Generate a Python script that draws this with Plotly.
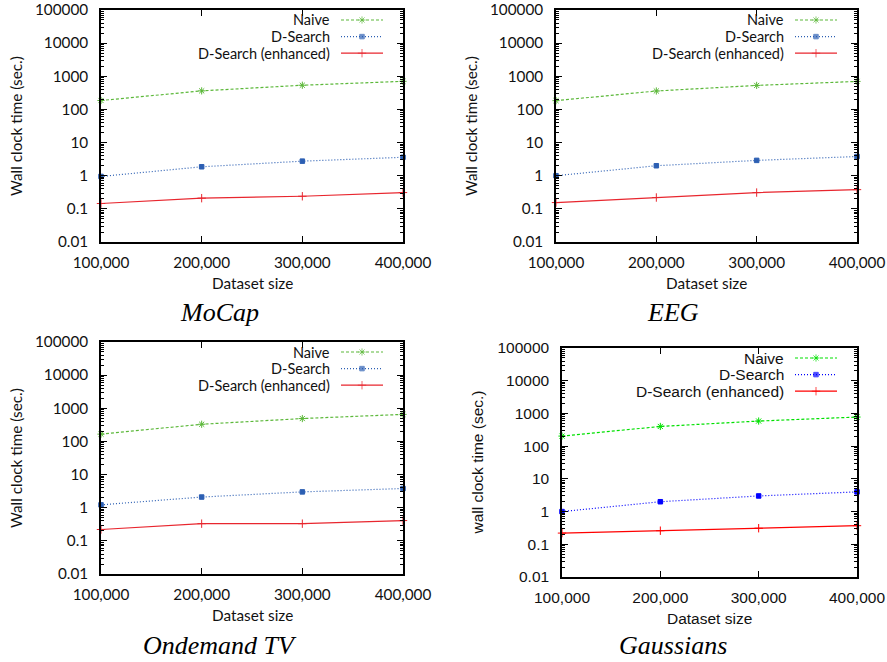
import plotly.graph_objects as go

W, H = 887, 662

# x: dataset size, y: wall clock time in seconds (log scale)
sizes = [100000, 200000, 300000, 400000]
size_labels = ["100,000", "200,000", "300,000", "400,000"]
time_ticks = [0.01, 0.1, 1, 10, 100, 1000, 10000, 100000]
time_labels = ["0.01", "0.1", "1", "10", "100", "1000", "10000", "100000"]

series_names = ["Naive", "D-Search", "D-Search (enhanced)"]

mocap_naive = [186, 363, 537, 705]
mocap_dsearch = [0.95, 1.86, 2.75, 3.6]
mocap_enhanced = [0.145, 0.21, 0.24, 0.31]

eeg_naive = [184, 360, 530, 700]
eeg_dsearch = [1.0, 2.0, 2.9, 3.8]
eeg_enhanced = [0.155, 0.22, 0.31, 0.38]

tv_naive = [166, 330, 490, 655]
tv_dsearch = [1.22, 2.1, 3.0, 3.8]
tv_enhanced = [0.22, 0.33, 0.33, 0.41]

gauss_naive = [203, 400, 585, 775]
gauss_dsearch = [1.0, 2.0, 3.0, 4.0]
gauss_enhanced = [0.22, 0.26, 0.31, 0.37]

captions = ["MoCap", "EEG", "Ondemand TV", "Gaussians"]
y_titles = ["Wall clock time (sec.)", "Wall clock time (sec.)",
            "Wall clock time (sec.)", "wall clock time (sec.)"]
panel_data = [
    (mocap_naive, mocap_dsearch, mocap_enhanced),
    (eeg_naive, eeg_dsearch, eeg_enhanced),
    (tv_naive, tv_dsearch, tv_enhanced),
    (gauss_naive, gauss_dsearch, gauss_enhanced),
]

# plot boxes in pixels: left, right, top, bottom
boxes = [
    (101, 403, 10, 242),
    (556, 857, 10, 242),
    (101, 403, 342, 574),
    (562, 857, 348, 577),
]
caption_pos = [(219, 312), (673, 312), (220, 645), (673, 645)]

muted = ["#5cb83a", "#2c5fb3", "#e8262e"]
vivid = ["#00e000", "#0000ff", "#ff0000"]
palettes = [muted, muted, muted, vivid]
# (family, axis text size, key text size)
fonts = [("Lato", 15.3, 14.5), ("Lato", 15.3, 14.5), ("Lato", 15.3, 14.5),
         ("Liberation Sans", 15.5, 15.5)]

dashes = ["3px,2px", "1px,2px", "solid"]
symbols = ["asterisk-open", "square", "cross-thin-open"]
msizes = [6, 4.5, 6]

minor_vals = [m * 10.0 ** e for e in range(-2, 5) for m in range(2, 10)]


def px_x(p):
    return p / W


def px_y(p):
    return 1 - p / H


fig = go.Figure()
annotations = []

for i, (data, box, pal, (fam, fsz, ksz)) in enumerate(zip(panel_data, boxes, palettes, fonts)):
    n = i + 1
    xa = "x" if n == 1 else f"x{n}"
    ya = "y" if n == 1 else f"y{n}"
    x0, x1, y0, y1 = box
    for k, vals in enumerate(data):
        mk = dict(symbol=symbols[k], size=msizes[k], color=pal[k],
                  line=dict(color=pal[k], width=1))
        fig.add_trace(go.Scatter(
            x=sizes, y=vals, mode="lines+markers", name=series_names[k],
            xaxis=xa, yaxis=ya, showlegend=False,
            line=dict(color=pal[k], width=1.2, dash=dashes[k]),
            marker=mk, cliponaxis=False,
        ))

    axis_font = dict(family=fam, size=fsz, color="#111111")
    key_font = dict(family=fam, size=ksz, color="#111111")
    common = dict(
        showline=True, linecolor="black", linewidth=1.5, mirror="ticks",
        ticks="inside", ticklen=6, tickcolor="black", tickwidth=1,
        showgrid=False, zeroline=False, tickfont=axis_font, fixedrange=True,
        automargin=False, ticklabeloverflow="allow",
    )
    fig.update_layout(**{
        ("xaxis" if n == 1 else f"xaxis{n}"): dict(
            common, domain=[px_x(x0), px_x(x1)], anchor=ya,
            range=[sizes[0], sizes[-1]], tickvals=sizes, ticktext=size_labels,
            ticklabelstandoff=6,
        ),
        ("yaxis" if n == 1 else f"yaxis{n}"): dict(
            common, domain=[px_y(y1), px_y(y0)], anchor=xa, type="log",
            range=[-2, 5], tickvals=time_ticks, ticktext=time_labels,
            ticklabelstandoff=8,
            minor=dict(tickvals=minor_vals, ticks="inside", ticklen=3,
                       tickcolor="black", tickwidth=1),
        ),
    })

    # axis titles
    annotations.append(dict(
        text="Dataset size", x=px_x((x0 + x1) / 2), y=px_y(y1 + 41),
        xref="paper", yref="paper", showarrow=False,
        xanchor="center", yanchor="middle", font=axis_font,
    ))
    annotations.append(dict(
        text=y_titles[i], x=px_x(x0 - 85), y=px_y((y0 + y1) / 2),
        xref="paper", yref="paper", showarrow=False, textangle=-90,
        xanchor="center", yanchor="middle", font=axis_font,
    ))
    # caption
    cx, cy = caption_pos[i]
    annotations.append(dict(
        text=captions[i], x=px_x(cx), y=px_y(cy), xref="paper", yref="paper",
        showarrow=False, xanchor="center", yanchor="middle",
        font=dict(family="Liberation Serif", size=26, style="italic", color="black"),
    ))

    # key: right-aligned labels with a line sample to their right
    for k in range(3):
        ry = y0 + 10 + 16.6 * k
        annotations.append(dict(
            text=series_names[k], x=px_x(x1 - 72), y=px_y(ry),
            xref="paper", yref="paper", showarrow=False, borderpad=0,
            xanchor="right", yanchor="middle", font=key_font,
        ))
        fig.add_trace(go.Scatter(
            x=[x1 - 62, x1 - 41, x1 - 20], y=[ry, ry, ry],
            mode="lines+markers", xaxis="x5", yaxis="y5", showlegend=False,
            line=dict(color=pal[k], width=1.2, dash=dashes[k]),
            marker=dict(symbol=symbols[k], size=[0, msizes[k], 0], color=pal[k],
                        line=dict(color=pal[k], width=1)),
            hoverinfo="skip",
        ))

# overlay axes in pixel units for the keys
fig.update_layout(
    xaxis5=dict(domain=[0, 1], range=[0, W], visible=False, fixedrange=True,
                anchor="y5", automargin=False),
    yaxis5=dict(domain=[0, 1], range=[H, 0], visible=False, fixedrange=True,
                anchor="x5", automargin=False),
)

fig.update_layout(
    template="none",
    width=W, height=H, margin=dict(l=0, r=0, t=0, b=0, pad=0),
    paper_bgcolor="white", plot_bgcolor="rgba(0,0,0,0)",
    annotations=annotations, showlegend=False,
)

fig.write_html("out.html")
